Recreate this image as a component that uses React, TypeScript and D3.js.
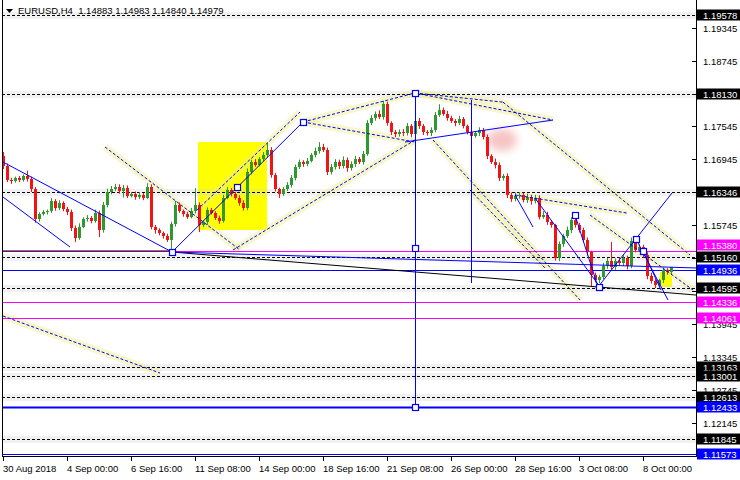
import * as d3 from 'd3'

// --- data ---
const symbolTitle = 'EURUSD,H4'
const lastOhlc = ['1.14883', '1.14983', '1.14840', '1.14979']

const firstOpen = 1.17
const closes = [
  1.1682, 1.1657, 1.1655, 1.166, 1.1657, 1.1664, 1.1658, 1.164, 1.1585, 1.1595,
  1.1598, 1.16, 1.1618, 1.1606, 1.1615, 1.1604, 1.1598, 1.157, 1.1552, 1.1572,
  1.1585, 1.1588, 1.1583, 1.1597, 1.1565, 1.1612, 1.1635, 1.164, 1.1645, 1.1637,
  1.1643, 1.1628, 1.1632, 1.1626, 1.163, 1.1625, 1.1645, 1.1572, 1.1565, 1.156,
  1.1555, 1.1548, 1.1576, 1.1612, 1.16, 1.1595, 1.159, 1.16, 1.1612, 1.1575,
  1.158, 1.1602, 1.1597, 1.1588, 1.1583, 1.1625, 1.1638, 1.1632, 1.1625, 1.1615,
  1.1605, 1.1672, 1.169, 1.1685, 1.1695, 1.1702, 1.1712, 1.1666, 1.164, 1.1632,
  1.164, 1.1648, 1.166, 1.168, 1.169, 1.1686, 1.1692, 1.1702, 1.171, 1.1718,
  1.1712, 1.1672, 1.168, 1.169, 1.1682, 1.1694, 1.1678, 1.1686, 1.1695, 1.169,
  1.1705, 1.176, 1.177, 1.1778, 1.1772, 1.1795, 1.176, 1.1745, 1.174, 1.1745,
  1.1742, 1.1755, 1.174, 1.1765, 1.1755, 1.1745, 1.1742, 1.1748, 1.1775, 1.1785,
  1.1778, 1.177, 1.1765, 1.176, 1.1768, 1.1755, 1.1745, 1.1738, 1.1742, 1.1748,
  1.1735, 1.17, 1.169, 1.1684, 1.166, 1.1664, 1.163, 1.1622, 1.1628, 1.163,
  1.162, 1.1626, 1.1618, 1.1625, 1.159, 1.1594, 1.158, 1.1574, 1.1515, 1.154,
  1.1555, 1.1566, 1.1584, 1.1575, 1.1565, 1.1548, 1.1525, 1.1483, 1.1474, 1.148,
  1.15, 1.151, 1.1498, 1.151, 1.1505, 1.1515, 1.15, 1.1545, 1.153, 1.1535,
  1.152, 1.1482, 1.1472, 1.1465, 1.1474, 1.1492, 1.14883, 1.14979,
]
// wick lengths in pips above / below the body
const upperWicks = [
  8, 5, 4, 3, 4, 3, 10, 5, 4, 3, 4, 3, 6, 4, 5, 3, 4, 5, 4, 6,
  4, 5, 3, 6, 4, 5, 6, 6, 5, 4, 5, 4, 3, 4, 5, 3, 6, 4, 3, 4,
  3, 4, 5, 7, 4, 3, 4, 6, 30, 4, 3, 5, 4, 3, 4, 5, 6, 4, 3, 4,
  5, 6, 4, 5, 4, 6, 12, 5, 4, 3, 4, 5, 6, 5, 4, 3, 5, 4, 6, 8,
  5, 4, 6, 5, 4, 6, 4, 5, 6, 4, 5, 6, 5, 4, 6, 6, 5, 4, 3, 4,
  5, 6, 4, 51, 5, 4, 3, 5, 6, 10, 4, 5, 4, 3, 6, 4, 3, 52, 4, 5,
  4, 5, 4, 6, 5, 4, 5, 4, 6, 5, 4, 6, 4, 5, 4, 6, 5, 4, 3, 5,
  4, 6, 5, 8, 4, 5, 4, 3, 5, 4, 6, 5, 34, 4, 6, 5, 4, 7, 6, 5,
  4, 5, 6, 4, 3, 5, 4, 0.4,
]
const lowerWicks = [
  5, 4, 5, 3, 4, 3, 4, 5, 6, 4, 3, 4, 3, 5, 4, 4, 5, 6, 8, 4,
  3, 4, 5, 4, 12, 4, 5, 4, 3, 5, 12, 4, 3, 5, 4, 5, 3, 5, 6, 4,
  5, 4, 22, 4, 3, 5, 4, 3, 4, 13, 4, 5, 3, 4, 6, 4, 3, 5, 4, 5,
  4, 3, 5, 4, 3, 4, 4, 5, 4, 8, 4, 3, 5, 4, 3, 5, 4, 3, 4, 5,
  4, 6, 5, 4, 5, 4, 6, 4, 5, 4, 5, 4, 3, 5, 4, 5, 4, 6, 5, 4,
  5, 4, 5, 4, 5, 6, 4, 5, 4, 3, 4, 5, 4, 5, 3, 4, 5, 14, 4, 5,
  4, 5, 4, 6, 5, 4, 6, 5, 4, 5, 4, 5, 6, 4, 5, 4, 5, 4, 5, 6,
  5, 4, 6, 5, 4, 5, 6, 21, 4, 5, 4, 5, 4, 5, 4, 5, 6, 4, 5, 4,
  5, 6, 4, 5, 4, 5, 4, 4.3,
]

const timeTicks = [0, 16, 32, 48, 64, 80, 96, 112, 128, 144, 160]
const timeLabels = [
  '30 Aug 2018', '4 Sep 00:00', '6 Sep 16:00', '11 Sep 08:00', '14 Sep 00:00',
  '18 Sep 16:00', '21 Sep 08:00', '26 Sep 00:00', '28 Sep 16:00', '3 Oct 08:00', '8 Oct 00:00',
]

// scale marks; only the ones not hidden behind a level box get a text
const priceTicks = [1.19345, 1.18745, 1.18145, 1.17545, 1.16945, 1.16345, 1.15745, 1.15145, 1.14545, 1.13945, 1.13345, 1.12745, 1.12145]
const priceTickLabels = [1.19345, 1.18745, 1.17545, 1.16945, 1.15745, 1.13945, 1.13345, 1.12745, 1.12145]
const dashedLevels = [1.19578, 1.1813, 1.16346, 1.1516, 1.14595, 1.13163, 1.13001, 1.12613, 1.11845]
const magentaLevels = [1.1527, 1.14336, 1.14061]
const magentaLabels = [1.1538, 1.14336, 1.14061]
const blueLevels = [1.14936, 1.12433, 1.11573]

// trend objects: [bar1, price1, bar2, price2]
const solidBlueLines = [
  [0, 1.16897, 42.25, 1.15256],
  [0, 1.16259, 16.75, 1.15347],
  [42.25, 1.15256, 75, 1.17627],
  [100.5, 1.17262, 137.5, 1.17663],
  [148.75, 1.14618, 167.25, 1.16332],
  [133, 1.16241, 149.25, 1.14618],
  [143, 1.15931, 148.75, 1.14618],
  [158.25, 1.15493, 166.25, 1.14381],
  [160, 1.15275, 164.5, 1.14563],
  [128, 1.16296, 132.5, 1.15712],
  [42.25, 1.15256, 173.25, 1.14965],
]
const blackLines = [
  [42.25, 1.15256, 173.25, 1.14472],
  [-0.25, 1.15275, 42.25, 1.15275],
]
const dashedBlueLines = [
  [25.5, 1.17171, 59.25, 1.15293],
  [48.5, 1.16022, 74.25, 1.17809],
  [57.5, 1.15293, 103, 1.17299],
  [75, 1.17627, 103, 1.18156],
  [75, 1.17627, 103, 1.17262],
  [103, 1.18156, 125, 1.17989],
  [125, 1.17989, 171.75, 1.15202],
  [107.5, 1.17299, 144.25, 1.14381],
  [103, 1.18156, 137.5, 1.17663],
  [0, 1.14089, 39.25, 1.1305],
  [128, 1.16296, 156, 1.15967],
  [116.75, 1.16387, 135.5, 1.14965],
  [146.75, 1.15931, 172.5, 1.14563],
]
const verticalLines = [
  [103, 1.18156, 1.1243],
  [117, 1.18028, 1.14691],
]
const anchorPoints = [
  [42.25, 1.15256], [58.5, 1.16442], [75, 1.17627], [103, 1.18156], [103, 1.15329],
  [103, 1.1243], [143, 1.15931], [149, 1.14618], [158.25, 1.15493], [160, 1.15275],
]
const yellowBoxes = [
  [48.75, 1.17262, 66, 1.15657],
  [164.25, 1.14891, 167.25, 1.14618],
]
const pinkMark = [124.75, 1.17299]

const pip = 0.0001
const W = 740
const H = 480
const axisX = 696
const axisY = 456
const font = '"Liberation Sans", Arial, sans-serif'

export default function App() {
  const x = d3.scaleLinear().domain([0, 160]).range([3, 643])
  const y = d3.scaleLinear().domain([1.11573, 1.19578]).range([454, 15])

  const candles = closes.map((c, i) => {
    const o = i === 0 ? firstOpen : closes[i - 1]
    return {
      i, o, c,
      h: Math.max(o, c) + upperWicks[i] * pip,
      l: Math.min(o, c) - lowerWicks[i] * pip,
    }
  })

  const fmt = d3.format('.5f')
  const seg = (d: number[]) => ({ x1: x(d[0]), y1: y(d[1]), x2: x(d[2]), y2: y(d[3]) })

  const boxLabel = (p: number, bg: string, key: string) => (
    <g key={key}>
      <rect x={axisX + 1} y={Math.round(y(p)) - 5.5} width={W - axisX - 1} height={11} fill={bg} />
      <text x={703} y={Math.round(y(p)) + 3.5} fill="#fff" fontSize={9.5} fontFamily={font}>{fmt(p)}</text>
    </g>
  )

  return (
    <svg width={W} height={H} style={{ position: 'fixed', left: 0, top: 0, background: '#fff' }}>
      <defs>
        <filter id="soft" x="-50%" y="-50%" width="200%" height="200%">
          <feGaussianBlur stdDeviation="4" />
        </filter>
        <clipPath id="plot">
          <rect x={2} y={0} width={axisX - 2} height={axisY} />
        </clipPath>
      </defs>

      <g clipPath="url(#plot)">
        {yellowBoxes.map((b, k) => (
          <rect key={k} x={x(b[0])} y={y(b[1])} width={x(b[2]) - x(b[0])} height={y(b[3]) - y(b[1])} fill="#ffff00" />
        ))}
        <ellipse cx={x(pinkMark[0])} cy={y(pinkMark[1])} rx={15} ry={11} fill="#f7c4c4" filter="url(#soft)" />

        {/* halos around dashed levels */}
        {dashedLevels.map((p, k) => (
          <line key={k} x1={2} x2={axisX} y1={Math.round(y(p)) + 0.5} y2={Math.round(y(p)) + 0.5} stroke="#d4d4d4" strokeWidth={7} opacity={0.3} />
        ))}
        {dashedBlueLines.map((d, k) => (
          <line key={k} {...seg(d)} stroke="#eeee88" strokeWidth={7} opacity={0.45} />
        ))}

        {dashedLevels.map((p, k) => (
          <line key={k} x1={2} x2={axisX} y1={Math.round(y(p)) + 0.5} y2={Math.round(y(p)) + 0.5} stroke="#000" strokeDasharray="3,2" />
        ))}
        {magentaLevels.map((p, k) => (
          <line key={k} x1={2} x2={axisX} y1={Math.round(y(p)) + 0.5} y2={Math.round(y(p)) + 0.5} stroke="#ff00ff" />
        ))}
        {blueLevels.map((p, k) => (
          <line key={k} x1={2} x2={axisX} y1={Math.round(y(p)) + 0.5} y2={Math.round(y(p)) + 0.5} stroke="#0000ff" strokeWidth={k === 1 ? 2 : 1} />
        ))}

        {candles.map(d => {
          const cx = Math.round(x(d.i))
          const up = d.c >= d.o
          const col = up ? '#2e9a2e' : '#f01414'
          const top = Math.round(y(Math.max(d.o, d.c)))
          const bot = Math.round(y(Math.min(d.o, d.c)))
          return (
            <g key={d.i}>
              <line x1={cx + 0.5} x2={cx + 0.5} y1={y(d.h)} y2={y(d.l)} stroke={col} />
              <rect x={cx - 1} y={top} width={3} height={Math.max(1, bot - top)} fill={col} />
            </g>
          )
        })}

        {dashedBlueLines.map((d, k) => (
          <line key={k} {...seg(d)} stroke="#0000ff" strokeDasharray="3,2" />
        ))}
        {blackLines.map((d, k) => (
          <line key={k} {...seg(d)} stroke="#000" />
        ))}
        {solidBlueLines.map((d, k) => (
          <line key={k} {...seg(d)} stroke="#0000ff" />
        ))}
        {verticalLines.map((d, k) => (
          <line key={k} x1={Math.round(x(d[0])) + 0.5} x2={Math.round(x(d[0])) + 0.5} y1={y(d[1])} y2={y(d[2])} stroke="#0000ff" />
        ))}
        {anchorPoints.map((d, k) => (
          <rect key={k} x={Math.round(x(d[0])) - 2.5} y={Math.round(y(d[1])) - 2.5} width={6} height={6} fill="#fff" stroke="#0000ff" strokeWidth={1.2} />
        ))}
      </g>

      {/* frame */}
      <line x1={2.5} x2={2.5} y1={0} y2={axisY} stroke="#000" />
      <line x1={axisX + 0.5} x2={axisX + 0.5} y1={0} y2={axisY + 1} stroke="#000" />
      <line x1={2} x2={axisX + 1} y1={axisY + 0.5} y2={axisY + 0.5} stroke="#000" />

      {/* price scale */}
      {priceTicks.map((p, k) => (
        <line key={k} x1={axisX - 4} x2={axisX} y1={Math.round(y(p)) + 0.5} y2={Math.round(y(p)) + 0.5} stroke="#000" />
      ))}
      {priceTickLabels.map((p, k) => (
        <text key={k} x={703} y={Math.round(y(p)) + 3.5} fill="#000" fontSize={9.5} fontFamily={font}>{fmt(p)}</text>
      ))}
      {dashedLevels.map((p, k) => boxLabel(p, '#000', 'd' + k))}
      {magentaLabels.map((p, k) => boxLabel(p, '#ff00ff', 'm' + k))}
      {blueLevels.map((p, k) => boxLabel(p, '#0000ff', 'b' + k))}

      {/* time scale */}
      {timeTicks.map((t, k) => (
        <g key={k}>
          <line x1={Math.round(x(t)) + 0.5} x2={Math.round(x(t)) + 0.5} y1={axisY} y2={axisY + 5} stroke="#000" />
          <text x={Math.round(x(t))} y={472} fill="#000" fontSize={9.5} fontFamily={font}>{timeLabels[k]}</text>
        </g>
      ))}

      {/* header */}
      <path d="M6,9 L13,9 L9.5,13 Z" fill="#000" />
      <text x={18} y={14} fill="#000" fontSize={9.5} fontFamily={font} style={{ whiteSpace: 'pre' }}>
        {symbolTitle + '  ' + lastOhlc.join(' ')}
      </text>
    </svg>
  )
}
